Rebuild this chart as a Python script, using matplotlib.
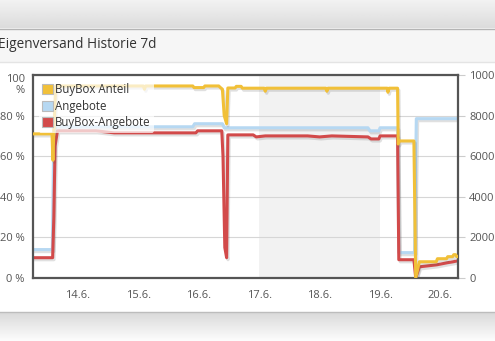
import matplotlib
matplotlib.use("Agg")
import matplotlib.pyplot as plt
import matplotlib.patheffects as pe
from matplotlib.patches import Patch, Rectangle
import matplotlib.transforms as mtransforms
import numpy as np

plt.rcParams["font.family"] = ["Open Sans", "DejaVu Sans"]

# Zeit in Tagen (Juni, mit Tagesbruchteil)
anteil_t = [13.25, 13.57, 13.585, 13.60, 13.63, 15.08, 15.10, 15.12, 15.90, 15.92,
            16.08, 16.10, 16.33, 16.35, 16.39, 16.42, 16.46, 16.48, 16.60, 16.62,
            16.70, 16.72, 17.08, 17.10, 17.12, 18.10, 18.12, 18.14, 19.12, 19.13,
            19.15, 19.29, 19.30, 19.32, 19.56, 19.59, 19.65, 19.93, 19.95, 20.10,
            20.12, 20.20, 20.22, 20.25, 20.27, 20.29]
anteil = [71, 71, 58, 72, 94.6, 94.6, 93, 94.6, 94.6, 93.8,
          93.8, 94.6, 94.6, 94, 93, 80, 76, 93.6, 93.6, 94.4,
          94.4, 93.5, 93.5, 92, 93.5, 93.5, 92, 93.5, 93.5, 91.5,
          93.5, 93.5, 66, 67.5, 67.5, 0, 8, 8, 9.5, 9.5,
          10.5, 10.5, 11.5, 11.5, 10.5, 10.5]

angebote_t = [13.25, 13.575, 13.60, 13.65, 15.90, 15.93, 16.39, 16.42, 18.80, 18.83,
              18.98, 19.00, 19.29, 19.31, 19.57, 19.60, 20.29]
angebote = [1400, 1400, 7300, 7450, 7450, 7600, 7600, 7400, 7400, 7250,
            7250, 7400, 7400, 1250, 1250, 7850, 7850]

bb_angebote_t = [13.25, 13.58, 13.60, 13.62, 13.66, 14.30, 14.60, 15.30, 15.95, 15.98,
                 16.38, 16.40, 16.43, 16.46, 16.48, 16.90, 16.95, 17.10, 17.80, 18.00,
                 18.20, 18.80, 18.85, 18.98, 19.00, 19.29, 19.31, 19.56, 19.59, 19.65,
                 19.94, 20.11, 20.21, 20.29]
bb_angebote = [1000, 1000, 3000, 6500, 7250, 7250, 7150, 7150, 7150, 7250,
               7250, 6000, 1500, 1000, 7050, 7050, 6950, 7000, 7000, 6950,
               7000, 6950, 6850, 6850, 7000, 7000, 900, 900, 0, 550,
               650, 750, 800, 850]

day_ticks = [14, 15, 16, 17, 18, 19, 20]
day_labels = ["14.6.", "15.6.", "16.6.", "17.6.", "18.6.", "19.6.", "20.6."]
pct_ticks = [0, 20, 40, 60, 80, 100]
pct_labels = ["0 %", "20 %", "40 %", "60 %", "80 %", "100\n%"]
count_ticks = [0, 2000, 4000, 6000, 8000, 10000]
weekend = (17.0, 19.0)
x_range = (13.255, 20.29)

series_names = ["BuyBox Anteil", "Angebote", "BuyBox-Angebote"]
colors = ["#f1c038", "#b6d8f2", "#d24a4a"]

W, H = 495, 341
fig = plt.figure(figsize=(W / 100, H / 100), dpi=100)

# Hintergrund: Kopfleiste, Titelbereich, weisses Panel, Schatten unten
bg = fig.add_axes([0, 0, 1, 1], zorder=-5)
bg.set_xlim(0, W)
bg.set_ylim(H, 0)
bg.axis("off")
top_grad = np.linspace(0.95, 0.86, 50).reshape(-1, 1)
bg.imshow(top_grad, extent=[0, W, 28, 0], cmap="gray", vmin=0, vmax=1, aspect="auto")
bot_grad = np.linspace(0.85, 0.99, 50).reshape(-1, 1)
bg.imshow(bot_grad, extent=[0, W, H, 312], cmap="gray", vmin=0, vmax=1, aspect="auto")
bg.add_patch(Rectangle((0, 28), W, 34, color="#f6f6f6", lw=0))
bg.add_patch(Rectangle((0, 62), W, 250, color="white", lw=0))
bg.plot([0, W], [28.5, 28.5], color="#b4b4b4", lw=1)
bg.plot([0, W], [62, 62], color="#e4e4e4", lw=1)
bg.plot([0, W], [312, 312], color="#bcbcbc", lw=1)
bg.set_xlim(0, W)
bg.set_ylim(H, 0)

fig.text(-2 / W, 1 - 45 / H, "Eigenversand Historie 7d", fontsize=9.8,
         color="#333333", va="center", ha="left")

left, right, top, bottom = 33, 458, 75, 278
ax = fig.add_axes([left / W, 1 - bottom / H, (right - left) / W, (bottom - top) / H])
ax2 = ax.twinx()
ax.set_zorder(3)
ax.patch.set_visible(False)
ax2.set_zorder(2)

shadow = [pe.SimpleLineShadow(offset=(1, -1.5), alpha=0.18, shadow_color="#555555"),
          pe.Normal()]

ax2.axvspan(*weekend, color="#f2f2f2", lw=0, zorder=0)
ax2.plot(angebote_t, angebote, color=colors[1], lw=2.2, path_effects=shadow, zorder=2,
         solid_joinstyle="round")
ax2.plot(bb_angebote_t, bb_angebote, color=colors[2], lw=2.2, path_effects=shadow, zorder=3,
         solid_joinstyle="round")
ax.plot(anteil_t, anteil, color=colors[0], lw=2.2, path_effects=shadow, zorder=4,
        solid_joinstyle="round")

ax.set_xlim(*x_range)
ax.set_ylim(0, 100)
ax2.set_ylim(0, 10000)

ax2.set_xticks(day_ticks)
ax2.set_yticks(count_ticks)
ax2.grid(True, color="#d6d6d6", lw=0.8, zorder=1)
ax2.set_axisbelow(True)
ax2.tick_params(axis="y", length=5, width=0.8, color="#cccccc", pad=3,
                labelsize=8, labelcolor="#555555")
for s in ax2.spines.values():
    s.set_visible(False)

ax.set_xticks(day_ticks)
ax.set_xticklabels(day_labels)
ax.set_yticks(pct_ticks)
ax.set_yticklabels(pct_labels)
ax.tick_params(axis="both", length=0, labelsize=8, labelcolor="#555555")
ax.tick_params(axis="x", pad=9)
ax.tick_params(axis="y", pad=6)
for s in ax.spines.values():
    s.set_color("#555555")
    s.set_linewidth(1.6)

top_lab = ax.get_yticklabels()[-1]
top_lab.set_linespacing(1.1)
top_lab.set_transform(top_lab.get_transform()
                      + mtransforms.ScaledTranslation(0, -8 / 100, fig.dpi_scale_trans))

handles = [Patch(facecolor=c, edgecolor="#bbbbbb", lw=0.8) for c in colors]
leg = ax.legend(handles, series_names, loc="upper left", bbox_to_anchor=(0.005, 0.995),
                frameon=True, fontsize=8.3, handlelength=0.95, handleheight=0.95,
                handletextpad=0.15, labelspacing=0.32, borderpad=0.3, borderaxespad=0.3)
leg.get_frame().set_facecolor("white")
leg.get_frame().set_alpha(0.7)
leg.get_frame().set_linewidth(0)
for t in leg.get_texts():
    t.set_color("#333333")

fig.savefig("out.png", dpi=100)
